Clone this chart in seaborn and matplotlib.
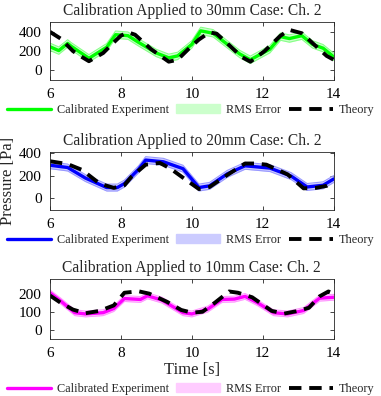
import numpy as np
import pandas as pd
import matplotlib
matplotlib.use("Agg")
import matplotlib.pyplot as plt
import seaborn as sns
from matplotlib.lines import Line2D
from matplotlib.patches import Patch

# ── Data ──────────────────────────────────────────────────────────────────────

t30_exp = [6.0, 6.25, 6.5, 6.6, 7.1, 7.6, 7.85, 8.2, 8.5, 9.0, 9.35, 9.6, 10.0,
           10.25, 10.6, 11.0, 11.35, 11.65, 12.0, 12.2, 12.5, 12.75, 13.1, 13.4, 13.7, 14.0]
p30_exp = [245, 205, 280, 250, 125, 240, 370, 360, 290, 180, 130, 150, 270,
           410, 385, 270, 170, 110, 180, 220, 350, 330, 360, 270, 230, 140]
t30_th = [6.0, 6.3, 6.65, 6.85, 7.1, 7.5, 7.8, 8.0, 8.2, 8.4, 8.85, 9.35, 9.6, 9.9,
          10.2, 10.5, 10.7, 11.0, 11.4, 11.65, 12.05, 12.5, 12.75, 13.1, 13.5, 13.8, 14.0]
p30_th = [400, 330, 200, 150, 95, 180, 290, 360, 395, 370, 220, 90, 110, 220,
          320, 395, 380, 280, 140, 90, 200, 360, 420, 385, 250, 150, 110]

t20_exp = [6.0, 6.5, 7.0, 7.6, 7.9, 8.1, 8.5, 8.7, 9.2, 9.75, 10.2, 10.5, 11.0,
           11.5, 12.2, 12.8, 13.25, 13.7, 14.0]
p20_exp = [290, 270, 178, 95, 95, 130, 255, 335, 320, 260, 95, 110, 215,
           285, 265, 195, 100, 115, 170]
t20_th = [6.0, 6.5, 6.9, 7.4, 7.8, 8.1, 8.3, 8.7, 9.1, 9.4, 9.8, 10.2, 10.5, 11.0,
          11.5, 11.8, 12.1, 12.7, 13.15, 13.5, 13.8, 14.0]
p20_th = [325, 300, 250, 130, 92, 115, 190, 295, 310, 260, 170, 82, 100, 205,
          305, 305, 295, 210, 88, 92, 110, 145]

t10_exp = [6.0, 6.3, 6.7, 7.0, 7.5, 7.8, 8.1, 8.55, 8.75, 9.15, 9.75, 10.0, 10.45,
           10.85, 11.2, 11.5, 11.85, 12.3, 12.7, 13.15, 13.6, 14.0]
p10_exp = [205, 160, 95, 88, 95, 118, 173, 168, 188, 165, 95, 88, 115,
           168, 170, 185, 150, 95, 88, 107, 175, 180]
t10_th = [6.0, 6.3, 6.65, 7.0, 7.4, 7.8, 8.1, 8.5, 8.8, 9.3, 9.7, 10.0, 10.3, 10.65,
          11.05, 11.3, 11.7, 12.25, 12.6, 13.0, 13.3, 13.6, 13.85, 14.0]
p10_th = [190, 150, 112, 92, 105, 135, 205, 213, 200, 155, 110, 95, 100, 150,
          212, 205, 180, 105, 90, 105, 122, 185, 212, 200]

rms = [38, 30, 16]
titles = ["Calibration Applied to 30mm Case: Ch. 2",
          "Calibration Applied to 20mm Case: Ch. 2",
          "Calibration Applied to 10mm Case: Ch. 2"]
line_colors = ["#00ff00", "#0000ff", "#ff00ff"]
band_colors = ["#ccffcc", "#ccccff", "#ffccff"]
edge_colors = ["#88ff88", "#9999ff", "#ff99ff"]
ylims = [(-100, 500), (-100, 405), (-50, 282)]
yticks = [[0, 200, 400], [0, 200, 400], [0, 100, 200]]

cases = [(t30_exp, p30_exp, t30_th, p30_th),
         (t20_exp, p20_exp, t20_th, p20_th),
         (t10_exp, p10_exp, t10_th, p10_th)]

# ── Style ─────────────────────────────────────────────────────────────────────

sns.set_style("ticks")
plt.rcParams["font.family"] = ["Liberation Serif", "DejaVu Serif"]
plt.rcParams["axes.edgecolor"] = "#262626"
plt.rcParams["axes.linewidth"] = 0.6

fig = plt.figure(figsize=(3.81, 3.96), dpi=100)
positions = [[0.131, 0.798, 0.745, 0.146],
             [0.131, 0.470, 0.745, 0.146],
             [0.131, 0.144, 0.745, 0.152]]
legend_y = [1 - 110 / 396, 1 - 240 / 396, 1 - 389 / 396]

for i, (te, pe, tt, pt) in enumerate(cases):
    ax = fig.add_axes(positions[i])
    df = pd.DataFrame({"Time": te, "Pressure": pe})
    th = pd.DataFrame({"Time": tt, "Pressure": pt})
    lo = df["Pressure"] - rms[i]
    hi = df["Pressure"] + rms[i]
    ax.fill_between(df["Time"], lo, hi, color=band_colors[i], lw=0)
    ax.plot(df["Time"], lo, color=edge_colors[i], lw=0.8)
    ax.plot(df["Time"], hi, color=edge_colors[i], lw=0.8)
    sns.lineplot(data=df, x="Time", y="Pressure", ax=ax, color=line_colors[i],
                 lw=2.4, sort=False)
    sns.lineplot(data=th, x="Time", y="Pressure", ax=ax, color="black",
                 lw=2.8, sort=False, ls=(0, (3.2, 2.0)))
    ax.set_xlim(6, 14)
    ax.set_ylim(*ylims[i])
    ax.set_xticks([6, 8, 10, 12, 14])
    ax.set_yticks(yticks[i])
    ax.tick_params(direction="in", length=3, width=0.6, labelsize=11,
                   top=True, right=True, pad=6, colors="#262626",
                   labelcolor="black")
    ax.set_title(titles[i], fontsize=11.2, pad=5)
    ax.set_xlabel("")
    ax.set_ylabel("")
    if i == 1:
        ax.set_ylabel("Pressure [Pa]", fontsize=12, labelpad=2)
    if i == 2:
        ax.set_xlabel("Time [s]", fontsize=12, labelpad=1)

    handles = [Line2D([], [], color=line_colors[i], lw=2.4),
               Patch(facecolor=band_colors[i], edgecolor=band_colors[i]),
               Line2D([], [], color="black", lw=2.8, ls=(0, (3.2, 2.0)))]
    labels = ["Calibrated Experiment", "RMS Error", "Theory"]
    fig.legend(handles, labels, loc="center", bbox_to_anchor=(0.5, legend_y[i]),
               ncol=3, frameon=False, fontsize=8.8, handlelength=3.6,
               handletextpad=0.5, columnspacing=0.6, borderpad=0,
               borderaxespad=0)

fig.savefig("out.png", dpi=100)
